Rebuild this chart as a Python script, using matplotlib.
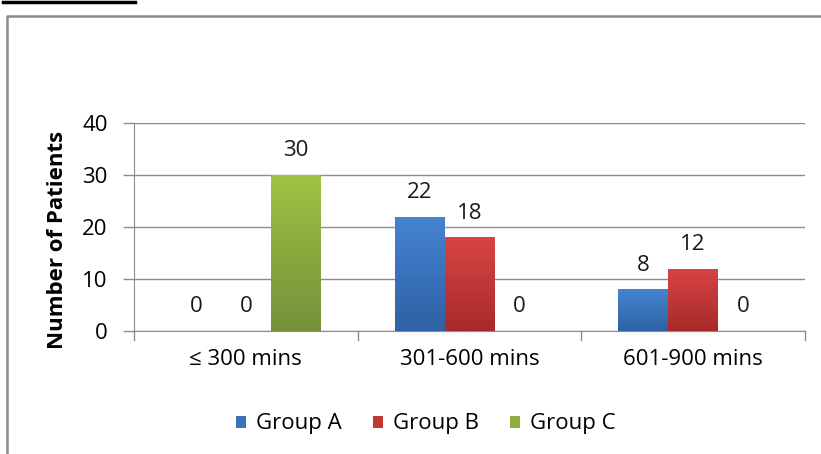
import numpy as np
import matplotlib.pyplot as plt
from matplotlib.colors import LinearSegmentedColormap
from matplotlib.patches import Patch
from matplotlib.lines import Line2D

categories = ['≤ 300 mins', '301-600 mins', '601-900 mins']
groups = ['Group A', 'Group B', 'Group C']
group_a = [0, 22, 8]
group_b = [0, 18, 12]
group_c = [30, 0, 0]
y_ticks = [0, 10, 20, 30, 40]

# top/bottom shades for each bar colour
shades = [('#4583d0', '#2f62a6'), ('#d84444', '#a82a2a'), ('#9dc343', '#74913a')]
face = ['#3b72ba', '#c23636', '#8cae3f']

plt.rcParams['font.family'] = ['Open Sans', 'DejaVu Sans']
fs = 16

fig = plt.figure(figsize=(8.21, 4.54), dpi=100)
ax = fig.add_axes([134 / 821, 1 - 331 / 454, (805 - 134) / 821, (331 - 123) / 454])

x = np.arange(len(categories))
width = 0.223
series = [group_a, group_b, group_c]

for i, vals in enumerate(series):
    pos = x + (i - 1) * width
    bars = ax.bar(pos, vals, width, color=face[i], zorder=3, linewidth=0)
    cmap = LinearSegmentedColormap.from_list('g%d' % i, [shades[i][1], shades[i][0]])
    grad = np.linspace(0, 1, 64).reshape(-1, 1)
    for b, v in zip(bars, vals):
        if v > 0:
            im = ax.imshow(grad, cmap=cmap, aspect='auto', origin='lower', zorder=3.5,
                           extent=[b.get_x(), b.get_x() + b.get_width(), 0, v])
            im.set_clip_path(b)
        ax.text(b.get_x() + b.get_width() / 2, v + 3.6, str(v),
                ha='center', va='baseline', fontsize=fs, color='#1a1a1a')

ax.set_xlim(-0.5, 2.5)
ax.set_ylim(0, 40)
ax.set_yticks(y_ticks)
ax.set_yticklabels([str(t) for t in y_ticks], fontsize=fs)
ax.grid(axis='y', color='#8c8c8c', linewidth=1, zorder=0)
ax.set_axisbelow(True)

ax.set_xticks(x)
ax.set_xticklabels(categories, fontsize=fs)
ax.tick_params(axis='x', length=0, pad=13)
# category separators below the baseline
for b in [-0.5, 0.5, 1.5, 2.5]:
    ax.add_line(Line2D([b, b], [0, -1.7], color='#8c8c8c', linewidth=1, clip_on=False))
ax.tick_params(axis='y', length=8, color='#8c8c8c', pad=11, width=1)

for s in ['top', 'right']:
    ax.spines[s].set_visible(False)
ax.spines['bottom'].set_color('#8c8c8c')
ax.spines['left'].set_color('#8c8c8c')

ax.set_ylabel('Number of Patients', fontsize=fs, fontweight='bold')
ax.yaxis.set_label_coords(-0.098, 0.44)

handles = [Patch(facecolor=face[i], edgecolor='none') for i in range(3)]
fig.legend(handles, groups, loc='center', bbox_to_anchor=(426 / 821, 1 - 424 / 454),
           ncol=3, frameon=False, fontsize=fs, handlelength=0.45, handleheight=0.45,
           handletextpad=0.45, columnspacing=1.4)

# outer frame and caption underline
fig.add_artist(Line2D([7 / 821, 7 / 821, 1], [0, 1 - 16 / 454, 1 - 16 / 454],
                      color='#8a8a8a', linewidth=1.8))
fig.add_artist(Line2D([3 / 821, 135 / 821], [1 - 2 / 454, 1 - 2 / 454],
                      color='black', linewidth=2.5))

fig.savefig('out.png', dpi=100)
